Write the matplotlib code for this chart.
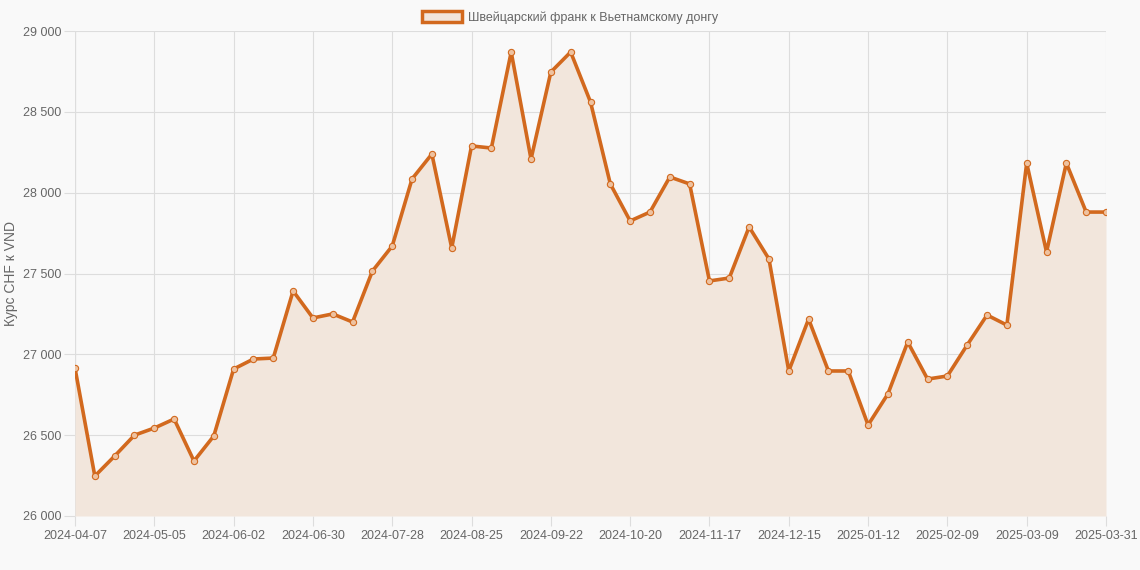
import matplotlib
matplotlib.use("Agg")
import matplotlib.pyplot as plt
from matplotlib.patches import Patch
from matplotlib.ticker import FuncFormatter

plt.rcParams["font.family"] = ["Liberation Sans", "DejaVu Sans"]

# weekly CHF -> VND rate
rates = [26915, 26247, 26371, 26500, 26544, 26600, 26340, 26495, 26909, 26971,
         26977, 27392, 27225, 27250, 27200, 27515, 27670, 28085, 28239, 27658,
         28289, 28276, 28870, 28208, 28746, 28870, 28561, 28054, 27825, 27880,
         28097, 28054, 27454, 27472, 27788, 27590, 26897, 27218, 26897, 26897,
         26563, 26755, 27076, 26847, 26866, 27058, 27243, 27181, 28183, 27633,
         28183, 27880, 27880]
tick_labels = ["2024-04-07", "2024-05-05", "2024-06-02", "2024-06-30", "2024-07-28",
               "2024-08-25", "2024-09-22", "2024-10-20", "2024-11-17", "2024-12-15",
               "2025-01-12", "2025-02-09", "2025-03-09", "2025-03-31"]
series_name = "Швейцарский франк к Вьетнамскому донгу"

line_color = "#d2691e"
fill_color = "#f2e6dc"
bg = "#f9f9f9"

x = list(range(len(rates)))
tick_pos = [i * 4 for i in range(len(tick_labels) - 1)] + [len(rates) - 1]

fig = plt.figure(figsize=(11.4, 5.7), dpi=100, facecolor=bg)
ax = fig.add_axes([75 / 1140, 54 / 570, 1031 / 1140, 485 / 570])
ax.set_facecolor(bg)

ax.fill_between(x, rates, 26000, color=fill_color, zorder=2, linewidth=0)
ax.plot(x, rates, color=line_color, linewidth=2.6, zorder=3,
        marker="o", markersize=4.5, markerfacecolor="#eec2a0",
        markeredgecolor=line_color, markeredgewidth=0.8)

ax.set_xlim(0, len(rates) - 1)
ax.set_ylim(26000, 29000)
ax.set_yticks([26000, 26500, 27000, 27500, 28000, 28500, 29000])
ax.yaxis.set_major_formatter(FuncFormatter(lambda v, p: f"{int(v):,}".replace(",", " ")))
ax.set_xticks(tick_pos)
ax.set_xticklabels(tick_labels)

ax.grid(True, color="#dddddd", linewidth=0.8, zorder=1)
for s in ax.spines.values():
    s.set_visible(False)
ax.axhline(26000, color="#cccccc", linewidth=0.8, zorder=1)
ax.axvline(0, color="#cccccc", linewidth=0.8, zorder=1)
ax.tick_params(axis="x", colors="#dddddd", labelcolor="#666666", labelsize=9, length=7, width=0.8, pad=3)
ax.tick_params(axis="y", colors="#dddddd", labelcolor="#666666", labelsize=9, length=8, width=0.8, pad=2)
ax.set_ylabel("Курс CHF к VND", color="#666666", fontsize=10)
ax.yaxis.set_label_coords(-57 / 1031, 0.5)

handle = Patch(facecolor=fill_color, edgecolor=line_color, linewidth=2.5)
fig.legend([handle], [series_name], loc="upper center", bbox_to_anchor=(0.5, 1.0),
           frameon=False, fontsize=9, labelcolor="#666666",
           handlelength=3.2, handleheight=1.0, handletextpad=0.5)

fig.savefig("out.png", dpi=100, facecolor=bg)
